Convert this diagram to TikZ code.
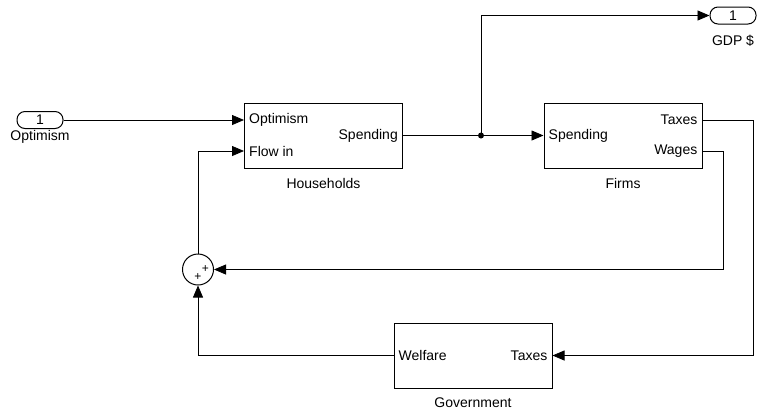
\documentclass[tikz,border=0pt]{standalone}
\usepackage{fontspec}
\setmainfont{Liberation Sans}
\usetikzlibrary{arrows.meta,positioning,calc}

\tikzset{
  blk/.style={draw,line width=1pt,minimum width=158pt,minimum height=65pt,inner sep=0pt},
  ioport/.style={draw,line width=1pt,rounded corners=8pt,minimum width=46pt,minimum height=17pt,inner sep=0pt,font=\fontsize{14}{16}\selectfont},
  lbl/.style={font=\fontsize{14}{16}\selectfont,inner sep=1pt},
  sig/.style={line width=0.8pt,-{Triangle[length=12pt,width=10pt]}},
  plus/.style={font=\fontsize{12}{12}\selectfont,inner sep=0pt},
}

\begin{document}
\begin{tikzpicture}[x=1pt,y=-1pt]
  \useasboundingbox (0,0) rectangle (759,416);
  % Entrada e saida
  \node[ioport] (inp) at (40,120) {1};
  \node[lbl] (inplbl) at (40,137) {Optimism};
  \node[ioport] (gdp) at (733,15.5) {1};
  \node[lbl] (gdplbl) at (733,41) {GDP \$};
  % Blocos
  \node[blk] (hh) at (323.5,135.5) {};
  \node[lbl] (hhlbl) at (323.5,183) {Households};
  \node[blk] (fm) at (623,135.5) {};
  \node[lbl] (fmlbl) at (623,183) {Firms};
  \node[blk] (gov) at (473,355.5) {};
  \node[lbl] (govlbl) at (473,403) {Government};
  % Somador
  \node[draw,circle,line width=1pt,minimum size=31pt,inner sep=0pt] (sum) at (198,269.5) {};
  \node[plus] (sumA) at (205.5,269.5) {+};
  \node[plus] (sumB) at (198,277.5) {+};
  % Portas
  \coordinate (hhOpt) at ([yshift=15.5pt]hh.west);
  \coordinate (hhFlow) at ([yshift=-15.5pt]hh.west);
  \coordinate (fmTax) at ([yshift=15.5pt]fm.east);
  \coordinate (fmWage) at ([yshift=-15.5pt]fm.east);
  \node[lbl,anchor=west] (hhOptlbl) at ([xshift=4pt]hhOpt) {Optimism};
  \node[lbl,anchor=west] (hhFlowlbl) at ([xshift=4pt]hhFlow) {Flow in};
  \node[lbl,anchor=east] (hhSpdlbl) at ([xshift=-4pt]hh.east) {Spending};
  \node[lbl,anchor=west] (fmSpdlbl) at ([xshift=4pt]fm.west) {Spending};
  \node[lbl,anchor=east] (fmTaxlbl) at ([xshift=-4pt]fmTax) {Taxes};
  \node[lbl,anchor=east] (fmWagelbl) at ([xshift=-4pt]fmWage) {Wages};
  \node[lbl,anchor=west] (govWellbl) at ([xshift=4pt]gov.west) {Welfare};
  \node[lbl,anchor=east] (govTaxlbl) at ([xshift=-4pt]gov.east) {Taxes};
  % Ligacoes
  \draw[sig] (inp.east) -- (hhOpt);
  \draw[sig] (hh.east) -- (fm.west);
  \coordinate (jn) at (481,135.5);
  \fill (jn) circle (3pt);
  \draw[sig] (jn) |- (gdp.west);
  \draw[sig] (fmTax) -- ++(51,0) |- (gov.east);
  \draw[sig] (fmWage) -- ++(21,0) |- (sum.east);
  \draw[sig] (gov.west) -| (sum.south);
  \draw[sig] (sum.north) |- (hhFlow);
\end{tikzpicture}
\end{document}
